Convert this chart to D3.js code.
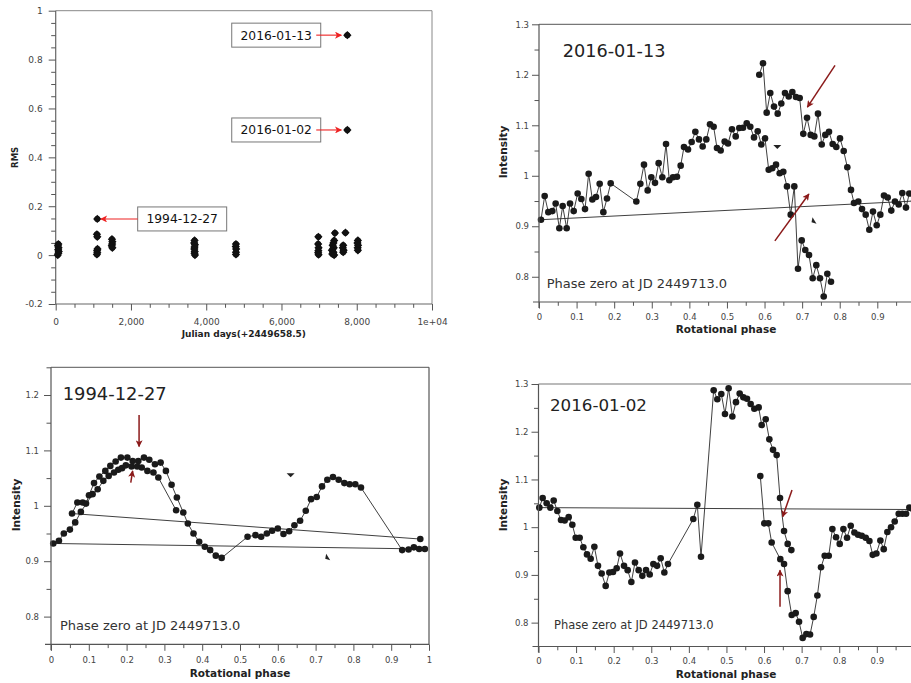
<!DOCTYPE html>
<html><head><meta charset="utf-8">
<script src="https://cdn.jsdelivr.net/npm/d3@7"></script>
<style>body{margin:0;background:#fff;} svg{font-family:"DejaVu Sans",sans-serif;display:block;}</style>
</head><body>
<svg width="911" height="683"></svg>
<script>
// ---------------- DATA ----------------
// Panel 1: RMS vs Julian days
const rmsDays = [55,70,80,65,75,60,70,
  1105,1095,1105,1110,1100,1105,1095,
  1495,1505,1500,1490,1505,
  3690,3680,3700,3690,3685,3695,3690,3700,
  4790,4785,4795,4790,4790,
  6980,6975,6985,6980,6975,6985,
  7420,7400,7380,7360,7390,7340,7380,7350,7400,
  7640,7630,7650,7640,
  7700,
  7750,7750,
  8030,8020,8035,8025,8030];
const rmsValues = [0.0,0.008,0.015,0.022,0.03,0.038,0.045,
  0.148,0.085,0.075,0.025,0.018,0.01,0.003,
  0.065,0.055,0.045,0.038,0.03,
  0.06,0.05,0.042,0.033,0.025,0.015,0.008,0.0,
  0.045,0.035,0.025,0.012,0.003,
  0.075,0.045,0.03,0.018,0.01,0.002,
  0.09,0.06,0.05,0.04,0.03,0.02,0.012,0.005,0.0,
  0.04,0.03,0.02,0.012,
  0.092,
  0.9,0.512,
  0.06,0.05,0.04,0.03,0.02];
const rmsYTicks = [-0.2,0,0.2,0.4,0.6,0.8,1];
const rmsXTicks = [0,2000,4000,6000,8000,10000];
const rmsXTickLabels = ["0","2,000","4,000","6,000","8,000","1e+04"];
const annLabels = ["2016-01-13","2016-01-02","1994-12-27"];
const annDays = [7750,7750,1105];
const annValues = [0.9,0.512,0.148];
const annSide = ["left","left","right"];

// Panel 2: 2016-01-13
const p2Phase = [0.586,0.5959,0.6057,0.6153,0.6252,0.635,0.6446,0.6544,0.6643,0.6739,0.6837,0.6935,0.7031,0.713,0.7228,0.7324,0.7422,0.7521,0.7617,0.7715,0.7813,0.7909,0.8007,0.8106,0.8202,0.830,0.838,0.8494,0.8593,0.8691,0.8787,0.8885,0.8984,0.908,0.9178,0.9276,0.9372,0.947,0.9569,0.9665,0.9763,0.9851,0.998,
 0.0053,0.0151,0.0248,0.0355,0.0443,0.0541,0.0630,0.0736,0.0825,0.0923,0.1029,0.1126,0.1224,0.1321,0.1419,0.1516,0.1614,0.1712,0.1809,0.1907,0.2589,0.2696,0.2793,0.2891,0.2988,0.3086,0.3183,0.3281,0.3379,0.3467,0.3565,0.3671,0.3769,0.3857,0.3964,0.4061,0.4159,0.4256,0.4354,0.4451,0.4549,0.4646,0.4735,0.4833,0.4939,0.5028,0.5134,0.5233,0.5329,0.5427,0.5526,0.5621,0.5720,0.5818,0.5914,0.6012,0.6111,0.6206,0.6305,0.6403,0.6499,0.6597,0.6696,0.6792,0.6890,0.6989,0.7084,0.7183,0.7281,0.7377,0.7475,0.7574,0.767,0.7768];
const p2Intensity = [1.200,1.223,1.125,1.164,1.137,1.123,1.143,1.164,1.157,1.166,1.156,1.154,1.083,1.115,1.081,1.078,1.123,1.062,1.081,1.087,1.063,1.057,1.074,1.049,1.017,0.972,0.946,0.949,0.934,0.923,0.893,0.929,0.902,0.923,0.961,0.957,0.931,0.949,0.943,0.966,0.937,0.965,0.950,
 0.913,0.960,0.928,0.930,0.945,0.896,0.940,0.896,0.945,0.930,0.965,0.954,0.934,1.004,0.953,0.958,0.984,0.928,0.955,0.985,0.949,0.984,1.022,0.971,0.997,0.986,1.025,0.997,1.063,0.991,0.997,0.998,1.020,1.057,1.052,1.067,1.087,1.072,1.058,1.072,1.102,1.097,1.055,1.050,1.068,1.064,1.092,1.078,1.0945,1.095,1.104,1.097,1.076,1.088,1.062,1.074,1.012,1.015,1.022,1.005,1.008,0.979,0.923,0.979,0.816,0.872,0.853,0.843,0.797,0.823,0.797,0.761,0.806,0.790];
const p2MarkPhase = [0.634,0.7316];
const p2MarkValue = [1.057,0.911];
const p2MarkDir = ["down","up"];
const p2Arrows = [[0.7875,1.2185,0.714,1.136],[0.6275,0.871,0.718,0.964]];

// Panel 3: 1994-12-27
const p3Phase = [0.977,
 0.0556,0.0697,0.0838,0.0926,0.1005,0.1138,0.128,0.1437,0.157,0.171,0.185,0.202,0.216,0.231,0.246,0.260,0.275,0.290,0.304,0.319,0.333,0.350,0.362,0.377,0.392,0.407,0.421,0.436,0.4515,
 0.520,0.541,0.556,0.571,0.585,0.600,0.615,0.630,0.644,0.659,0.674,0.688,0.703,0.717,0.731,0.746,0.761,0.776,0.790,0.805,0.820,
 0.929,0.946,0.960,0.974,0.989,
 0.006,0.021,0.034,0.050,0.064,0.079,0.110,0.1235,0.1384,0.1526,0.1667,0.178,0.188,0.198,0.213,0.228,0.240,0.255,0.271,0.284,0.331];
const p3Intensity = [0.940,
 0.986,1.006,1.006,1.004,1.019,1.041,1.053,1.063,1.072,1.080,1.087,1.087,1.081,1.081,1.087,1.083,1.075,1.078,1.063,1.038,1.015,0.988,0.968,0.950,0.935,0.926,0.920,0.910,0.906,
 0.944,0.947,0.944,0.950,0.955,0.959,0.949,0.954,0.965,0.973,0.991,1.012,1.016,1.035,1.047,1.052,1.047,1.041,1.039,1.039,1.033,
 0.920,0.921,0.925,0.922,0.922,
 0.932,0.937,0.950,0.957,0.970,0.989,1.021,1.030,1.045,1.054,1.060,1.065,1.068,1.073,1.071,1.071,1.069,1.063,1.060,1.051,0.992];
const p3MarkPhase = [0.634,0.732];
const p3MarkValue = [1.055,0.907];
const p3MarkDir = ["down","up"];
const p3Arrows = [[0.233,1.164,0.233,1.107],[0.211,1.042,0.216,1.063]];

// Panel 4: 2016-01-02
const p4Phase = [0.5901,0.6007,0.6114,0.6203,0.6433,0.6532,0.6629,0.6736,0.6842,0.6931,0.7028,0.7126,0.7224,0.7321,0.7419,0.7516,0.7614,0.7721,0.7818,0.7916,0.8013,0.8111,0.8208,0.8306,0.8404,0.8501,0.8599,0.8705,0.8803,0.8891,0.8989,0.9095,0.9184,0.9281,0.9379,0.9476,0.9583,0.968,0.9778,0.9866,0.997,
 0.0022,0.0111,0.0217,0.0315,0.0404,0.0501,0.0599,0.0696,0.0803,0.0900,0.0989,0.1095,0.1193,0.129,0.1388,0.1486,0.1583,0.168,0.1787,0.1885,0.1982,0.208,0.2168,0.2275,0.2372,0.247,0.2567,0.2665,0.2762,0.286,0.2958,0.3055,0.3153,0.325,0.3348,0.3445,0.4118,0.4225,0.4323,0.466,0.4757,0.4863,0.4961,0.5058,0.5157,0.5254,0.5352,0.5449,0.5547,0.5644,0.5742,0.5857,0.5937,0.6044,0.6141,0.6239,0.6336,0.6425,0.6532,0.6629,0.6727];
const p4Intensity = [1.107,1.008,1.008,0.968,0.933,0.923,0.866,0.816,0.820,0.802,0.768,0.776,0.775,0.812,0.857,0.916,0.940,0.940,0.996,0.979,0.965,0.996,0.978,1.003,0.989,0.984,0.982,0.978,0.971,0.942,0.945,0.972,0.954,0.990,1.000,1.012,1.028,1.028,1.028,1.041,1.037,
 1.041,1.061,1.050,1.041,1.056,1.034,1.015,1.014,1.021,1.005,0.978,0.978,0.958,0.943,0.934,0.959,0.919,0.903,0.877,0.905,0.906,0.914,0.945,0.919,0.910,0.885,0.926,0.910,0.898,0.910,0.901,0.923,0.919,0.935,0.905,0.923,1.017,1.047,0.938,1.287,1.268,1.279,1.237,1.291,1.232,1.262,1.280,1.272,1.269,1.258,1.248,1.251,1.214,1.226,1.184,1.162,1.151,1.061,0.992,0.965,0.952];
const p4Arrows = [[0.6744,1.078,0.6497,1.022],[0.6425,0.8334,0.6425,0.910]];

const phaseTicks = [0,0.1,0.2,0.3,0.4,0.5,0.6,0.7,0.8,0.9,1];
const phaseZeroText = "Phase zero at JD 2449713.0";

// ---------------- DRAW ----------------
const svg = d3.select("svg");
const defs = svg.append("defs");
function arrowMarker(id, color){
  defs.append("marker").attr("id",id).attr("viewBox","0 0 10 10")
    .attr("refX",9).attr("refY",5).attr("markerWidth",8).attr("markerHeight",7)
    .attr("markerUnits","userSpaceOnUse").attr("orient","auto")
    .append("path").attr("d","M0,0L10,5L0,10L2.5,5Z").attr("fill",color);
}
arrowMarker("redHead","#ee2222");
arrowMarker("darkHead","#8b1a1a");

const AX = "#555", TXT = "#444";
const fmt = v => String(+v.toFixed(2));

function drawYAxis(g, y, xPos, majors, minors, labelFmt, fs, pad){
  const ax = d3.axisLeft(y).tickValues(majors).tickSize(7).tickPadding(pad).tickFormat(labelFmt);
  const gg = g.append("g").attr("transform",`translate(${xPos},0)`).call(ax);
  gg.select(".domain").remove();
  gg.selectAll("line").attr("stroke",AX);
  gg.selectAll("text").attr("fill",TXT).style("font-size",fs+"px").style("font-family","DejaVu Sans");
  const am = d3.axisLeft(y).tickValues(minors).tickSize(4.5).tickFormat("");
  const gm = g.append("g").attr("transform",`translate(${xPos},0)`).call(am);
  gm.select(".domain").remove();
  gm.selectAll("line").attr("stroke",AX);
}
function drawXAxis(g, x, yPos, majors, minors, labelFmt, fs, pad){
  const ax = d3.axisBottom(x).tickValues(majors).tickSize(6.5).tickPadding(pad).tickFormat(labelFmt);
  const gg = g.append("g").attr("transform",`translate(0,${yPos})`).call(ax);
  gg.select(".domain").remove();
  gg.selectAll("line").attr("stroke",AX);
  gg.selectAll("text").attr("fill",TXT).style("font-size",fs+"px").style("font-family","DejaVu Sans");
  const am = d3.axisBottom(x).tickValues(minors).tickSize(3.8).tickFormat("");
  const gm = g.append("g").attr("transform",`translate(0,${yPos})`).call(am);
  gm.select(".domain").remove();
  gm.selectAll("line").attr("stroke",AX);
}

// ---- Panel 1 ----
(function(){
  const L=55.7,R=432,T=10.7,B=304;
  const x = d3.scaleLinear().domain([0,10000]).range([L,R]);
  const y = d3.scaleLinear().domain([-0.2,1]).range([B,T]);
  const g = svg.append("g");
  g.append("line").attr("x1",L).attr("x2",R).attr("y1",T).attr("y2",T).attr("stroke","#888");
  g.append("line").attr("x1",R).attr("x2",R).attr("y1",T).attr("y2",B).attr("stroke","#888");
  g.append("line").attr("x1",L).attr("x2",L).attr("y1",T).attr("y2",B).attr("stroke","#666").attr("stroke-width",1.2);
  g.append("line").attr("x1",L).attr("x2",R).attr("y1",B).attr("y2",B).attr("stroke","#666").attr("stroke-width",1.2);
  const yMin = d3.range(-0.2,1.0001,0.05).map(v=>+v.toFixed(2)).filter(v=>!rmsYTicks.includes(v));
  drawYAxis(g,y,L,rmsYTicks,yMin,fmt,9,6);
  const xMin = d3.range(0,10001,500).filter(v=>!rmsXTicks.includes(v));
  drawXAxis(g,x,B,rmsXTicks,xMin,(d,i)=>rmsXTickLabels[i],9,8);
  g.append("text").attr("x",(L+R)/2).attr("y",337).attr("text-anchor","middle")
    .attr("font-weight","bold").attr("font-size",9).attr("fill","#222").text("Julian days(+2449658.5)");
  g.append("text").attr("transform",`translate(18,${(T+B)/2}) rotate(-90)`).attr("text-anchor","middle")
    .attr("font-weight","bold").attr("font-size",8.5).attr("fill","#222").text("RMS");
  // markers
  const pts = rmsDays.map((d,i)=>[d,rmsValues[i]]);
  const mk = g.append("g");
  pts.forEach(p=>{
    const cx=x(p[0]), cy=y(p[1]);
    mk.append("path").attr("d",d3.symbol(d3.symbolDiamond2,44)()).attr("transform",`translate(${cx},${cy})`).attr("fill","#111");
    mk.append("circle").attr("cx",cx).attr("cy",cy).attr("r",3).attr("fill","#111");
  });
  // annotations
  annLabels.forEach((lab,i)=>{
    const px=x(annDays[i]), py=y(annValues[i]);
    const bw=89, bh=24;
    let bx, ax1, ax2;
    if(annSide[i]==="left"){ bx=px-26.6-bw; ax1=bx+bw-4.5; ax2=px-6; }
    else { bx=px+40.4; ax1=bx; ax2=px+3.5; }
    g.append("rect").attr("x",bx).attr("y",py-bh/2).attr("width",bw).attr("height",bh)
      .attr("fill","#fff").attr("stroke","#777").attr("stroke-width",1);
    g.append("text").attr("x",bx+bw/2).attr("y",py+4.5).attr("text-anchor","middle")
      .attr("font-size",12.3).attr("fill","#111").text(lab);
    g.append("line").attr("x1",ax1).attr("x2",ax2).attr("y1",py).attr("y2",py)
      .attr("stroke","#ee2222").attr("stroke-width",1.1).attr("marker-end","url(#redHead)");
  });
})();

// ---- Phase panels ----
function phasePanel(o){
  const x = d3.scaleLinear().domain([0,1]).range([o.L,o.L+o.W]);
  const y = d3.scaleLinear().domain(o.yDom).range([o.B,o.T]);
  const g = svg.append("g");
  const right = Math.min(o.L+o.W, 911);
  g.append("line").attr("x1",o.L).attr("x2",o.rightFrame?o.L+o.W:911).attr("y1",o.T).attr("y2",o.T).attr("stroke","#777").attr("stroke-width",1.2);
  if(o.rightFrame) g.append("line").attr("x1",o.L+o.W).attr("x2",o.L+o.W).attr("y1",o.T).attr("y2",o.B).attr("stroke","#555").attr("stroke-width",1.2);
  // series
  const pts = o.phase.map((p,i)=>[p,o.val[i]]);
  const line = d3.line().x(d=>x(d[0])).y(d=>y(d[1]));
  g.append("path").attr("d",line(pts)).attr("fill","none").attr("stroke","#2a2a2a").attr("stroke-width",0.9);
  g.append("g").selectAll("circle").data(pts).join("circle")
    .attr("cx",d=>x(d[0])).attr("cy",d=>y(d[1])).attr("r",3.3).attr("fill","#1a1a1a");
  // small triangles
  if(o.markPhase){
    o.markPhase.forEach((p,i)=>{
      const cx=x(p), cy=y(o.markVal[i]);
      const d = o.markDir[i]==="down" ? `M${cx-4},${cy-2}L${cx+4},${cy-2}L${cx},${cy+2}Z` : `M${cx-1.5},${cy-3.5}L${cx+2.5},${cy+3}L${cx-2.5},${cy+1.5}Z`;
      g.append("path").attr("d",d).attr("fill","#222");
    });
  }
  // phase-zero label with background
  const lbl = g.append("g");
  lbl.append("rect").attr("x",o.L-2).attr("y",o.lblY-16).attr("width",o.lblW).attr("height",24).attr("fill","#fff").attr("opacity",0.85);
  lbl.append("text").attr("x",o.lblX).attr("y",o.lblY).attr("font-size",o.lblFs).attr("fill","#333").text(phaseZeroText);
  // axes
  g.append("line").attr("x1",o.L).attr("x2",o.L).attr("y1",o.T).attr("y2",o.B+6).attr("stroke",AX).attr("stroke-width",1.2);
  g.append("line").attr("x1",o.L-6).attr("x2",right).attr("y1",o.B).attr("y2",o.B).attr("stroke",AX).attr("stroke-width",1.2);
  const yMaj = o.yTicks;
  const yMin = d3.range(o.yDom[0],o.yDom[1]+0.0001,0.05).map(v=>+v.toFixed(2)).filter(v=>!yMaj.includes(v) && v>o.yDom[0]+0.001);
  drawYAxis(g,y,o.L,yMaj,yMin,fmt,8.5,o.yPad);
  const xMaj = phaseTicks.filter(v=>x(v)<=911);
  const xMin = d3.range(0.05,1,0.1).map(v=>+v.toFixed(2)).filter(v=>x(v)<=911);
  drawXAxis(g,x,o.B,xMaj,xMin,fmt,8.5,o.xPad);
  g.append("text").attr("x",o.xTitleX).attr("y",o.xTitleY).attr("text-anchor","middle")
    .attr("font-weight","bold").attr("font-size",10.5).attr("fill","#222").text("Rotational phase");
  g.append("text").attr("transform",`translate(${o.yTitleX},${o.yTitleY}) rotate(-90)`).attr("text-anchor","middle")
    .attr("font-weight","bold").attr("font-size",10.5).attr("fill","#222").text("Intensity");
  // title
  g.append("text").attr("x",o.titleX).attr("y",o.titleY).attr("font-size",o.titleFs).attr("fill","#222").text(o.title);
  // arrows
  (o.arrows||[]).forEach(a=>{
    g.append("line").attr("x1",x(a[0])).attr("y1",y(a[1])).attr("x2",x(a[2])).attr("y2",y(a[3]))
      .attr("stroke","#8b1a1a").attr("stroke-width",1.5).attr("marker-end","url(#darkHead)");
  });
}

phasePanel({L:539,W:375.9,T:24.3,B:302,yDom:[0.75,1.3],yTicks:[0.8,0.9,1,1.1,1.2,1.3],
  phase:p2Phase,val:p2Intensity,markPhase:p2MarkPhase,markVal:p2MarkValue,markDir:p2MarkDir,
  lblX:546.7,lblY:288,lblW:196,lblFs:13,yPad:3,xPad:5,xTitleX:726,xTitleY:333,yTitleX:507,yTitleY:152,
  title:"2016-01-13",titleX:562.7,titleY:57,titleFs:17.7,arrows:p2Arrows,rightFrame:false});

phasePanel({L:51,W:378,T:367.3,B:644.3,yDom:[0.75,1.25],yTicks:[0.8,0.9,1,1.1,1.2],
  phase:p3Phase,val:p3Intensity,markPhase:p3MarkPhase,markVal:p3MarkValue,markDir:p3MarkDir,
  lblX:60,lblY:630,lblW:196,lblFs:13,yPad:5,xPad:6,xTitleX:240,xTitleY:677,yTitleX:20,yTitleY:505,
  title:"1994-12-27",titleX:62.7,titleY:399.5,titleFs:17.9,arrows:p3Arrows,rightFrame:true});

phasePanel({L:538.5,W:375.9,T:384,B:646.5,yDom:[0.75,1.3],yTicks:[0.8,0.9,1,1.1,1.2,1.3],
  phase:p4Phase,val:p4Intensity,
  lblX:554,lblY:629,lblW:180,lblFs:11.5,yPad:3,xPad:5,xTitleX:726,xTitleY:678,yTitleX:507,yTitleY:505,
  title:"2016-01-02",titleX:550,titleY:411,titleFs:16.7,arrows:p4Arrows,rightFrame:false});
</script>
</body></html>
